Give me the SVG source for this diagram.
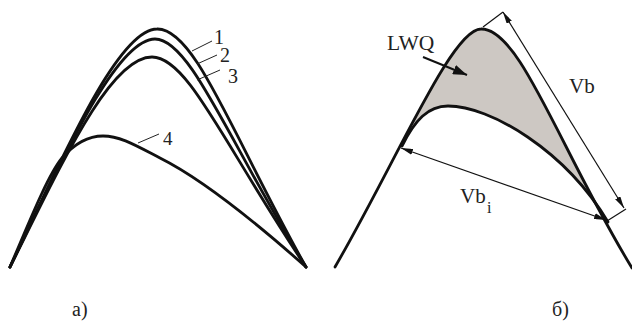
<svg xmlns="http://www.w3.org/2000/svg" width="632" height="323" viewBox="0 0 632 323">
<style>
.curve{fill:none;stroke:#111;stroke-width:2.8;stroke-linejoin:round;stroke-linecap:round}
.lead{fill:none;stroke:#222;stroke-width:1}
.dim{fill:none;stroke:#111;stroke-width:1.2}
text{font-family:'Liberation Serif','Times New Roman',serif;fill:#222}
</style>
<defs>
<marker id="ah" viewBox="0 0 12 6" refX="12" refY="3" markerWidth="12" markerHeight="6" markerUnits="userSpaceOnUse" orient="auto-start-reverse">
<path d="M0,0 L12,3 L0,6 Z" fill="#111"/>
</marker>
<marker id="ahBig" viewBox="0 0 14 10" refX="14" refY="5" markerWidth="14" markerHeight="10" markerUnits="userSpaceOnUse" orient="auto">
<path d="M0,0 L14,5 L0,10 Z" fill="#111"/>
</marker>
<clipPath id="outerClip">
<path d="M335,267 C398,158 452,29 481,29 C520,28 560,150 632,268 Z"/>
</clipPath>
</defs>

<g id="panel-a">
<g id="curve-1"><path class="curve" d="M10,267 C62,158 118,29 157,29 C195,28 232,135 306,267"/></g>
<g id="curve-2"><path class="curve" d="M10,267 C62,160 116,39 155,39 C190,39 228,140 306,267"/></g>
<g id="curve-3"><path class="curve" d="M10,267 C62,163 110,57 152,57 C188,57 224,145 306,267"/></g>
<g id="curve-4"><path class="curve" d="M10,267 C30,220 48,175 62,158 C75,143 88,136 103,136 C120,136 135,145 160,158 C210,183 270,235 306,267"/></g>
<g id="leaders-a">
<path class="lead" d="M192,51 L212,41"/>
<path class="lead" d="M197,64 L217,55"/>
<path class="lead" d="M197,80 L220,70"/>
<path class="lead" d="M138,143 L159,134"/>
</g>
<g id="labels-a" font-family="Liberation Serif, serif">
<text x="214" y="44" font-size="20">1</text>
<text x="220" y="62" font-size="20">2</text>
<text x="228" y="83" font-size="20">3</text>
<text x="163" y="145" font-size="19">4</text>
<text x="72" y="316" font-size="20">a)</text>
</g>
</g>

<g id="panel-b">
<g id="lwq-area">
<path clip-path="url(#outerClip)" fill="#cdc8c3" d="M402,146 C415,120 428,106 448,106 C490,106 565,150 608,222 L640,232 L640,0 L330,0 L330,160 Z"/>
</g>
<g id="outer-curve"><path class="curve" d="M335,267 C398,158 452,29 481,29 C520,28 560,150 632,268"/></g>
<g id="inner-curve"><path class="curve" d="M402,146 C415,120 428,106 448,106 C490,106 565,150 608,222"/></g>
<g id="connectors">
<path class="dim" d="M483,27 L503,12"/>
<path class="dim" d="M607,221 L626,209"/>
<path class="dim" marker-start="url(#ah)" marker-end="url(#ah)" d="M503,12 L624,208"/>
<path class="dim" marker-start="url(#ah)" marker-end="url(#ah)" d="M401,148 L606,220"/>
<path fill="none" stroke="#111" stroke-width="2" marker-end="url(#ahBig)" d="M423,57 L467,75"/>
</g>
<g id="labels-b" font-family="Liberation Serif, serif">
<text x="387" y="50" font-size="21.5">LWQ</text>
<text x="569" y="93" font-size="21">Vb</text>
<text x="460" y="203" font-size="21">Vb</text>
<text x="487" y="213" font-size="16">i</text>
<text x="552" y="316" font-size="20">б)</text>
</g>
</g>
</svg>
